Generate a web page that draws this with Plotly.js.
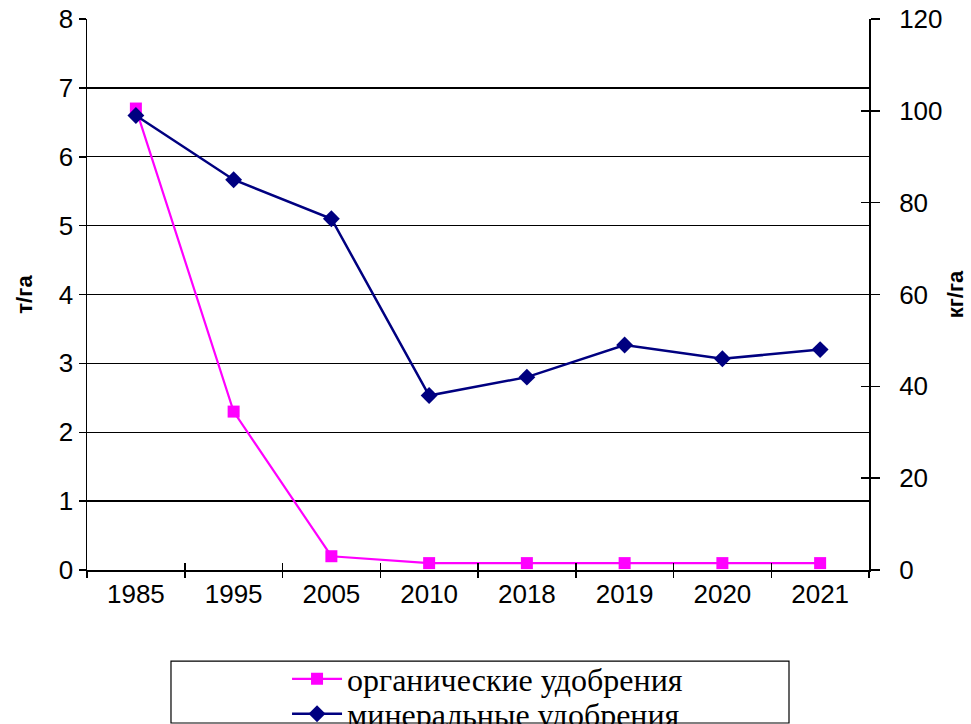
<!DOCTYPE html>
<html>
<head>
<meta charset="utf-8">
<script src="https://cdn.plot.ly/plotly-3.0.1.min.js"></script>
<style>html,body{margin:0;padding:0;background:#fff;}#chart{width:971px;height:724px;}</style>
</head>
<body>
<div id="chart"></div>
<script>
var years = ["1985", "1995", "2005", "2010", "2018", "2019", "2020", "2021"];
var organic = [6.7, 2.3, 0.2, 0.1, 0.1, 0.1, 0.1, 0.1];      // т/га
var mineral = [99, 85, 76.5, 38, 42, 49, 46, 48];            // кг/га
var organicName = "органические удобрения";
var mineralName = "минеральные удобрения";
var leftTitle = "т/га";
var rightTitle = "кг/га";

var tickFont = {family: "Liberation Sans", size: 26, color: "#000"};
var legendFont = {family: "Liberation Serif", size: 32, color: "#000"};
var boundaryTicks = [];
for (var i = 0; i <= years.length; i++) boundaryTicks.push(i - 0.5);

var traces = [
  {x: years, y: organic, name: organicName, type: "scatter", mode: "lines+markers",
   line: {color: "#FF00FF", width: 2.2}, marker: {symbol: "square", size: 12, color: "#FF00FF"},
   xaxis: "x", yaxis: "y", legend: "legend"},
  {x: years, y: mineral, name: mineralName, type: "scatter", mode: "lines+markers",
   line: {color: "#000080", width: 2.5}, marker: {symbol: "diamond", size: 13, color: "#000080"},
   xaxis: "x", yaxis: "y2", legend: "legend2"},
  {x: [], y: [], xaxis: "x2", yaxis: "y", showlegend: false, hoverinfo: "skip"},
  {x: [], y: [], xaxis: "x3", yaxis: "y", showlegend: false, hoverinfo: "skip"},
  {x: [], y: [], xaxis: "x", yaxis: "y3", showlegend: false, hoverinfo: "skip"}
];

var layout = {
  width: 971, height: 724,
  margin: {l: 87, r: 102, t: 19, b: 154, autoexpand: false},
  paper_bgcolor: "#fff", plot_bgcolor: "#fff",
  showlegend: true,
  xaxis: {type: "category", categoryarray: years, categoryorder: "array",
          range: [-0.5, years.length - 0.5], tickson: "boundaries",
          ticks: "outside", ticklen: 12, tickwidth: 1.5, tickcolor: "rgba(0,0,0,0)",
          showline: true, linecolor: "#000", linewidth: 1.5, showgrid: false,
          tickfont: tickFont, zeroline: false, fixedrange: true, automargin: false},
  xaxis2: {overlaying: "x", anchor: "y", range: [-0.5, years.length - 0.5],
           tickmode: "array", tickvals: boundaryTicks, ticks: "inside", ticklen: 7,
           tickwidth: 1.5, tickcolor: "#000", showticklabels: false, showline: false,
           showgrid: false, zeroline: false},
  xaxis3: {overlaying: "x", anchor: "y", range: [-0.5, years.length - 0.5],
           tickmode: "array", tickvals: boundaryTicks, ticks: "outside", ticklen: 7,
           tickwidth: 1.5, tickcolor: "#000", showticklabels: false, showline: false,
           showgrid: false, zeroline: false},
  yaxis: {range: [0, 8], dtick: 1, ticks: "outside", ticklen: 7, tickwidth: 1.5, tickcolor: "#000",
          showline: true, linecolor: "#000", linewidth: 1.5, automargin: false,
          showgrid: true, gridcolor: "#000", gridwidth: 1.3, zeroline: false,
          tickfont: tickFont,
          title: {text: leftTitle, font: {family: "Liberation Sans", size: 22, color: "#000", weight: "bold"}, standoff: 20}},
  yaxis2: {overlaying: "y", side: "right", anchor: "x", range: [0, 120], dtick: 20,
           ticks: "outside", ticklen: 9, tickwidth: 1.5, tickcolor: "#000", automargin: false,
           showline: true, linecolor: "#000", linewidth: 1.5, showgrid: false, zeroline: false,
           tickfont: tickFont, tickprefix: "\u00a0\u00a0",
           title: {text: rightTitle, font: {family: "Liberation Sans", size: 22, color: "#000", weight: "bold"}, standoff: 6}},
  yaxis3: {overlaying: "y", side: "right", anchor: "x", range: [0, 120], dtick: 20,
           ticks: "inside", ticklen: 8, tickwidth: 1.5, tickcolor: "#000",
           showticklabels: false, showline: false, showgrid: false, zeroline: false},
  legend: {x: 0.2558, y: -0.1978, xanchor: "left", yanchor: "middle",
           bgcolor: "rgba(0,0,0,0)", borderwidth: 0, itemwidth: 50, font: legendFont},
  legend2: {x: 0.2558, y: -0.2613, xanchor: "left", yanchor: "middle",
           bgcolor: "rgba(0,0,0,0)", borderwidth: 0, itemwidth: 50, font: legendFont},
  shapes: [{type: "rect", xref: "paper", yref: "paper", x0: 0.1074, x1: 0.8977, y0: -0.2777, y1: -0.1652,
            line: {color: "#000", width: 1.2}, fillcolor: "rgba(0,0,0,0)", layer: "below"}]
};

Plotly.newPlot("chart", traces, layout, {displayModeBar: false, staticPlot: true});
</script>
</body>
</html>
